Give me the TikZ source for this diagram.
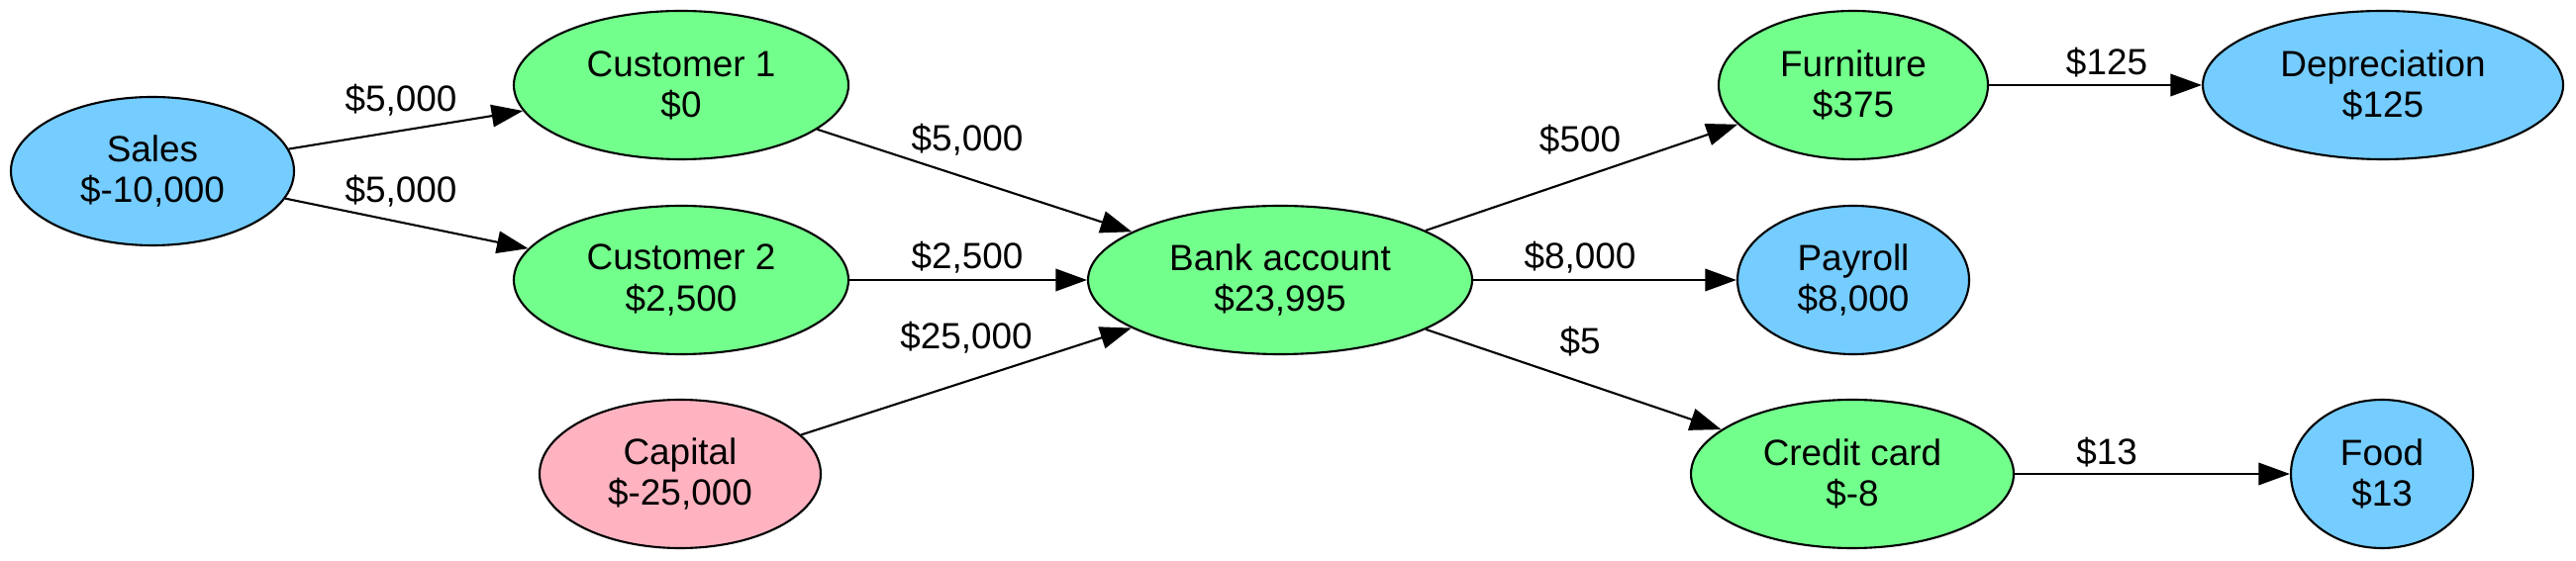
\documentclass[tikz,border=0pt]{standalone}
\usepackage{fontspec}
\setmainfont{Liberation Sans}
\usetikzlibrary{shapes.geometric,arrows.meta}
\definecolor{acctblue}{RGB}{116,204,255}
\definecolor{acctgreen}{RGB}{115,255,140}
\definecolor{acctpink}{RGB}{255,179,193}
\begin{document}
\begin{tikzpicture}
		\tikzstyle{acct}=[ellipse,draw=black,line width=0.6pt,inner sep=0pt,minimum height=1.5cm,align=center,font=\fontsize{10.5}{11.7}\selectfont]
		\tikzstyle{lbl}=[inner sep=0pt,font=\fontsize{10.5}{11.7}\selectfont]
		\tikzstyle{edge}=[line width=0.6pt,-{Triangle[length=9pt,width=6.4pt]}]
		\useasboundingbox (0,0) rectangle (26.02,5.66);
		\node[acct,fill=acctblue,minimum width=2.86cm] (g_sales) at (1.54,3.93) {Sales\\\$-10,000};
		\node[acct,fill=acctgreen,minimum width=3.38cm] (g_cust1) at (6.88,4.80) {Customer 1\\\$0};
		\node[acct,fill=acctgreen,minimum width=3.38cm] (g_cust2) at (6.88,2.83) {Customer 2\\\$2,500};
		\node[acct,fill=acctpink,minimum width=2.84cm] (g_capital) at (6.87,0.87) {Capital\\\$-25,000};
		\node[acct,fill=acctgreen,minimum width=3.88cm] (g_bank) at (12.93,2.83) {Bank account\\\$23,995};
		\node[acct,fill=acctgreen,minimum width=2.72cm] (g_furn) at (18.72,4.80) {Furniture\\\$375};
		\node[acct,fill=acctblue,minimum width=2.34cm] (g_payroll) at (18.72,2.83) {Payroll\\\$8,000};
		\node[acct,fill=acctgreen,minimum width=3.26cm] (g_credit) at (18.71,0.87) {Credit card\\\$-8};
		\node[acct,fill=acctblue,minimum width=3.64cm] (g_depr) at (24.07,4.80) {Depreciation\\\$125};
		\node[acct,fill=acctblue,minimum width=1.84cm] (g_food) at (24.06,0.87) {Food\\\$13};
		\draw[edge] (g_sales) -- (g_cust1);
		\draw[edge] (g_sales) -- (g_cust2);
		\draw[edge] (g_cust1) -- (g_bank);
		\draw[edge] (g_cust2) -- (g_bank);
		\draw[edge] (g_capital) -- (g_bank);
		\draw[edge] (g_bank) -- (g_furn);
		\draw[edge] (g_bank) -- (g_payroll);
		\draw[edge] (g_bank) -- (g_credit);
		\draw[edge] (g_furn) -- (g_depr);
		\draw[edge] (g_credit) -- (g_food);
		\node[lbl] (l_1) at (4.05,4.65) {\$5,000};
		\node[lbl] (l_2) at (4.05,3.73) {\$5,000};
		\node[lbl] (l_3) at (9.77,4.25) {\$5,000};
		\node[lbl] (l_4) at (9.77,3.06) {\$2,500};
		\node[lbl] (l_5) at (9.76,2.25) {\$25,000};
		\node[lbl] (l_6) at (15.96,4.25) {\$500};
		\node[lbl] (l_7) at (15.96,3.06) {\$8,000};
		\node[lbl] (l_8) at (15.96,2.21) {\$5};
		\node[lbl] (l_9) at (21.28,5.03) {\$125};
		\node[lbl] (l_10) at (21.28,1.09) {\$13};
	\end{tikzpicture}
\end{document}
